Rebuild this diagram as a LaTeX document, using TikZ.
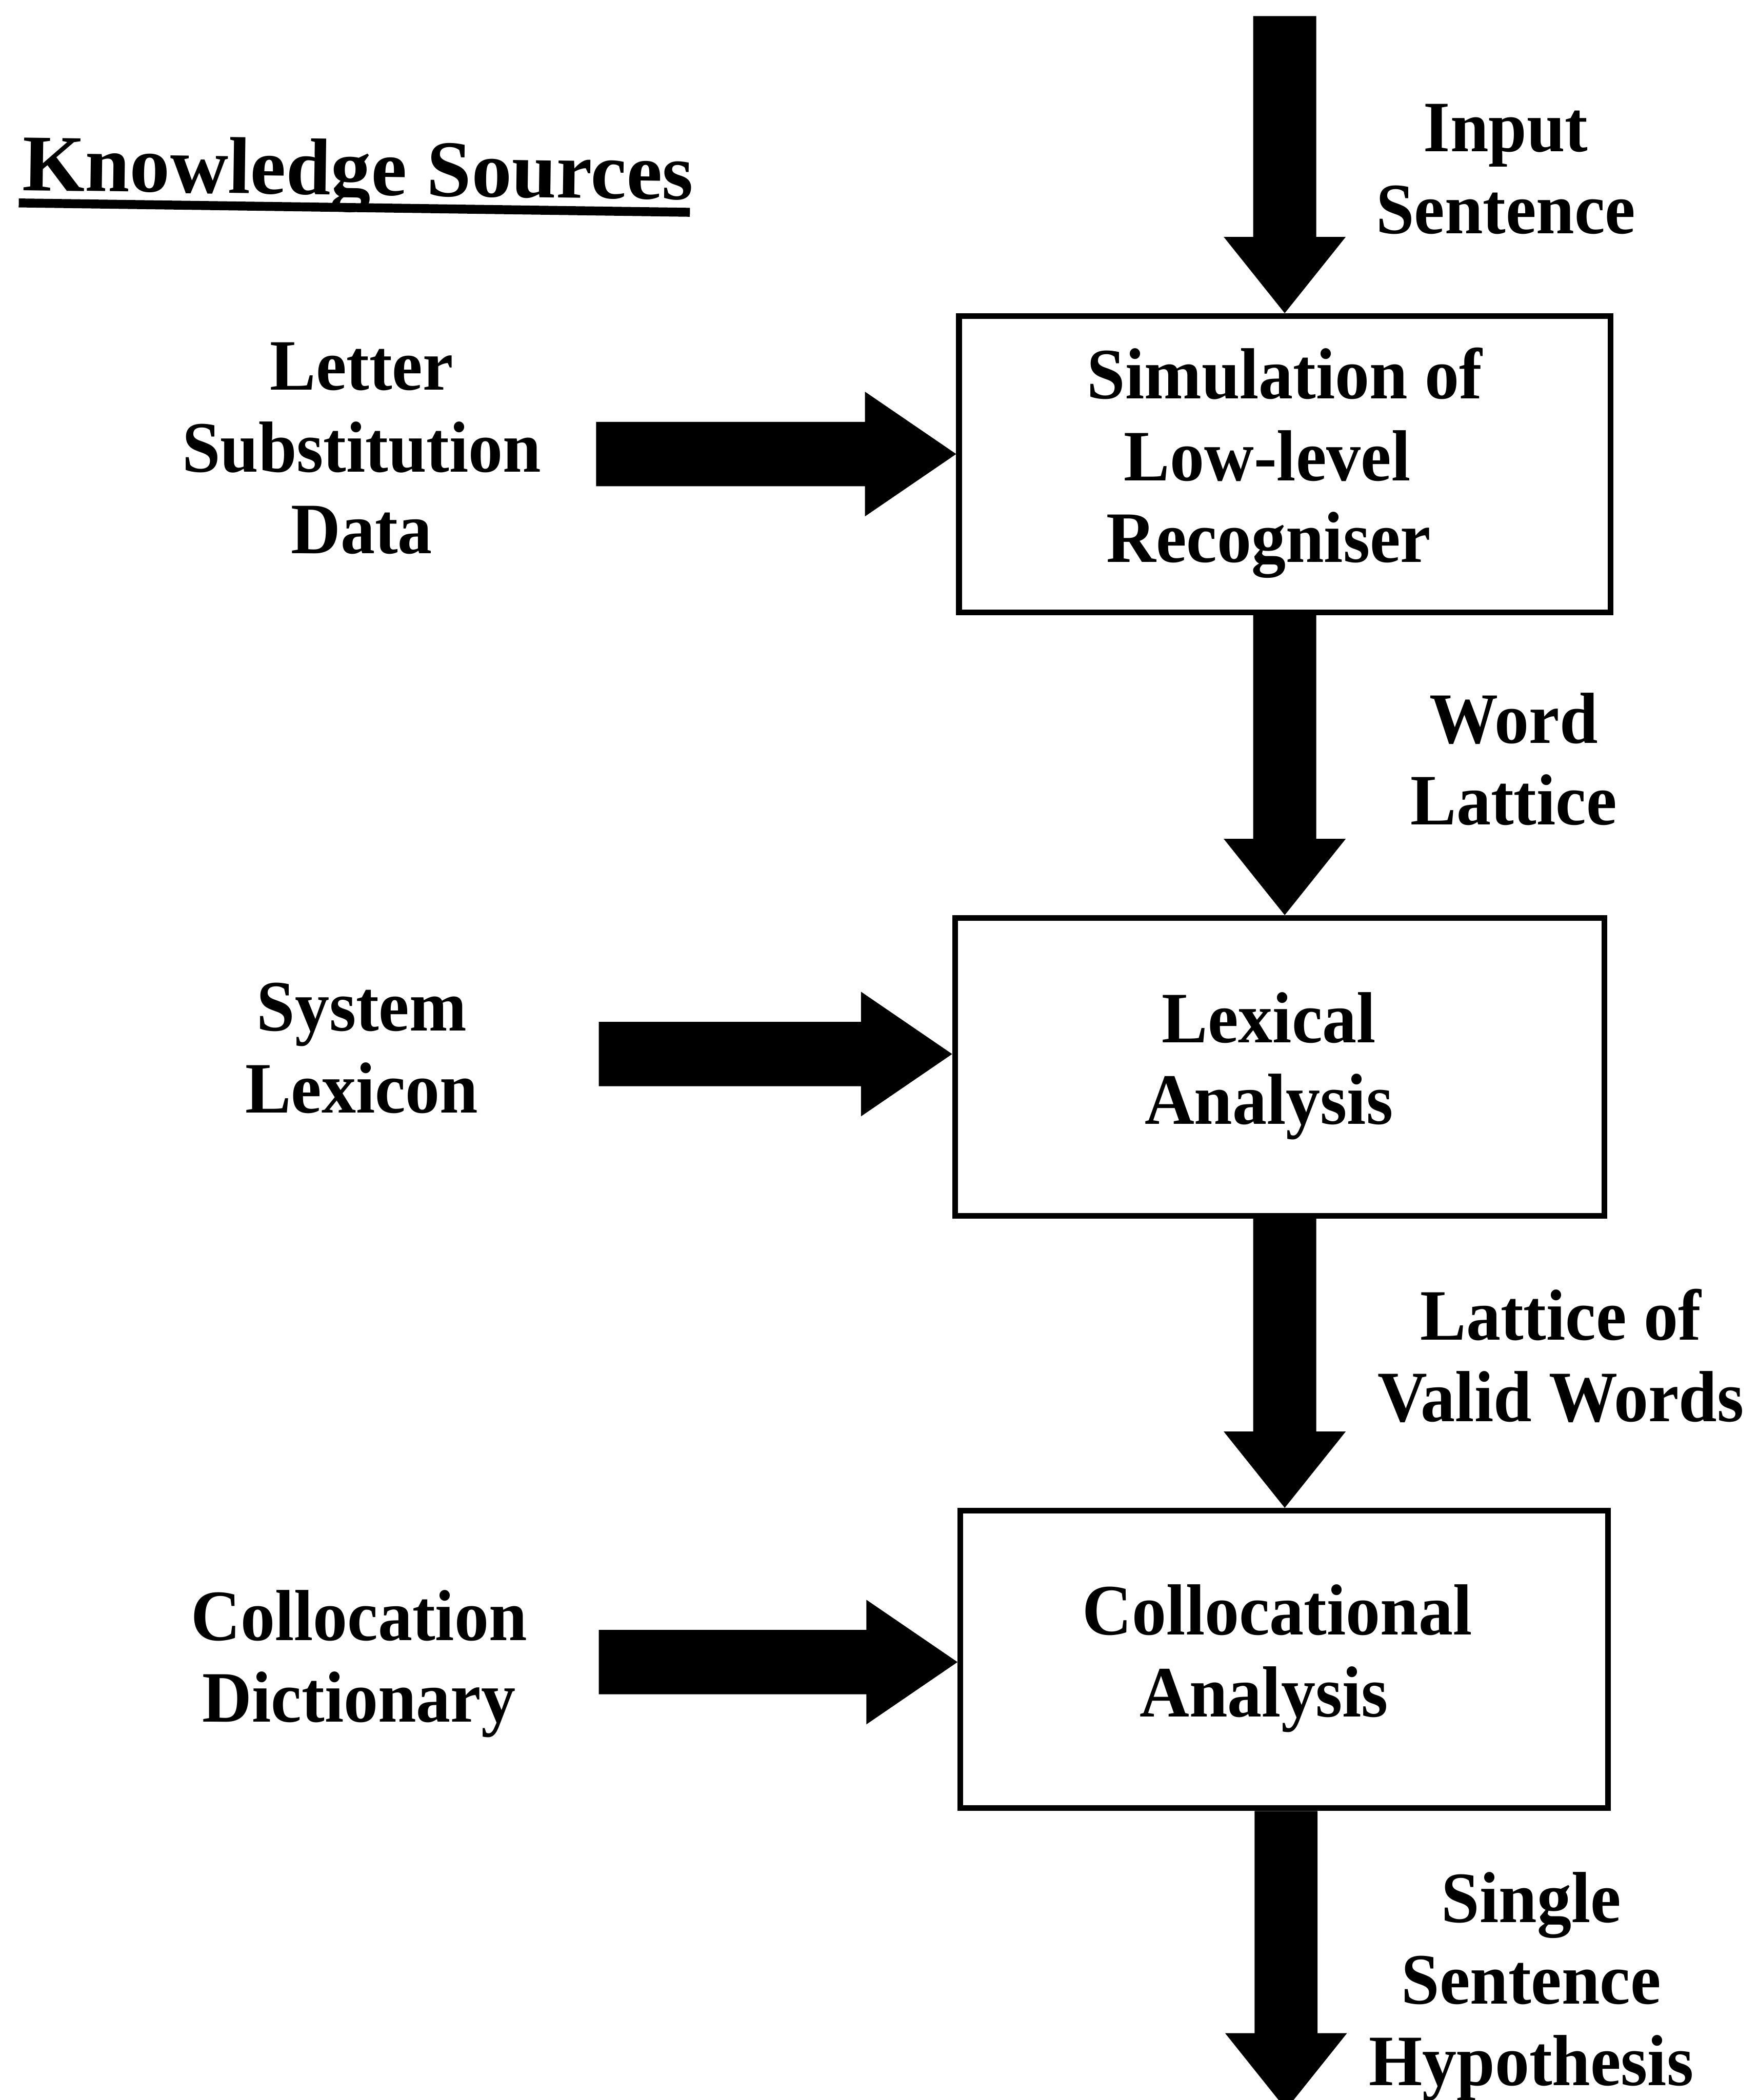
\documentclass[tikz,border=0pt]{standalone}
\usepackage{fontspec}
\newfontfamily\labfont[FakeStretch=0.95]{Liberation Serif}
\newfontfamily\titlefont{Liberation Serif}
\usetikzlibrary{calc}
% down arrow: #1 start (shaft top), #2 tip
\newcommand\flowdown[2]{\fill let \p1=(#1), \p2=(#2) in
  (\x2-6.69pt,\y1) -- (\x2+6.69pt,\y1) -- (\x2+6.69pt,\y2+16.2pt) -- (\x2+12.95pt,\y2+16.2pt)
  -- (\x2,\y2) -- (\x2-12.95pt,\y2+16.2pt) -- (\x2-6.69pt,\y2+16.2pt) -- cycle;}
% right arrow: #1 start (shaft left), #2 tip
\newcommand\flowright[2]{\fill let \p1=(#1), \p2=(#2) in
  (\x1,\y2+6.83pt) -- (\x2-19.35pt,\y2+6.83pt) -- (\x2-19.35pt,\y2+13.23pt) -- (\x2,\y2)
  -- (\x2-19.35pt,\y2-13.23pt) -- (\x2-19.35pt,\y2-6.83pt) -- (\x1,\y2-6.83pt) -- cycle;}
% pad at line end: shifts centred text left by half the amount
\newcommand\padr[1]{\hspace*{#1}\null}
\begin{document}
\begin{tikzpicture}[x=0.01cm,y=-0.01cm,
  lab/.style={align=center, inner sep=0pt,
    font=\labfont\bfseries\fontsize{15.36}{17.36}\selectfont},
  stage/.style={draw, line width=1.2pt, inner sep=0pt, align=center,
    font=\labfont\bfseries\fontsize{15.36}{17.36}\selectfont}]
\path[use as bounding box] (0,0) rectangle (1312,1568);

% title
\node[anchor=base west, rotate=-0.8, inner sep=0pt,
  font=\titlefont\bfseries\fontsize{17.07}{20}\selectfont] (title) at (16,142) {Knowledge Sources};
\draw[line width=1.9pt] (14,151.5) -- (515,158.5);

% stages
\node[stage, minimum width=4.86cm, minimum height=2.21cm] (b1) at (959,346.5)
  {\strut Simulation of\\Low-level\padr{0.26cm}\\Recogniser\padr{0.24cm}\strut};
\node[stage, minimum width=4.844cm, minimum height=2.223cm] (b2) at (955.2,796.6)
  {\strut Lexical\padr{0.16cm}\\Analysis\padr{0.16cm}\strut};
\node[stage, minimum width=4.83cm, minimum height=2.22cm] (b3) at (958.5,1239)
  {\strut Collocational\padr{0.1cm}\\Analysis\padr{0.3cm}\strut};

% flow labels
\node[lab] (insent) at (1124,131.6) {\strut Input\\Sentence\strut};
\node[lab] (wordlat) at (1130,573) {\strut Word\\Lattice\strut};
\node[lab] (lvw) at (1165,1018.7) {\strut Lattice of\\Valid Words\strut};
\node[lab] (ssh) at (1143,1484) {\strut Single\\Sentence\\Hypothesis\strut};

% knowledge sources
\node[lab] (lsd) at (270,340) {\strut Letter\\Substitution\\Data\strut};
\node[lab] (syslex) at (270,788) {\strut System\\Lexicon\strut};
\node[lab] (colldict) at (268,1243) {\strut Collocation\\Dictionary\strut};

% main flow arrows
\coordinate (ax) at (959,0);
\coordinate (inS) at (959,12);
\coordinate (outE) at (960,1575);
\flowdown{inS}{b1.north -| ax}
\flowdown{b1.south -| ax}{b2.north -| ax}
\flowdown{b2.south -| ax}{b3.north -| ax}
\flowdown{b3.south -| ax}{outE}

% knowledge source arrows
\coordinate (k1) at (445,339);
\coordinate (k2) at (447,787);
\coordinate (k3) at (447,1241);
\flowright{k1}{b1.west |- k1}
\flowright{k2}{b2.west |- k2}
\flowright{k3}{b3.west |- k3}
\end{tikzpicture}
\end{document}
